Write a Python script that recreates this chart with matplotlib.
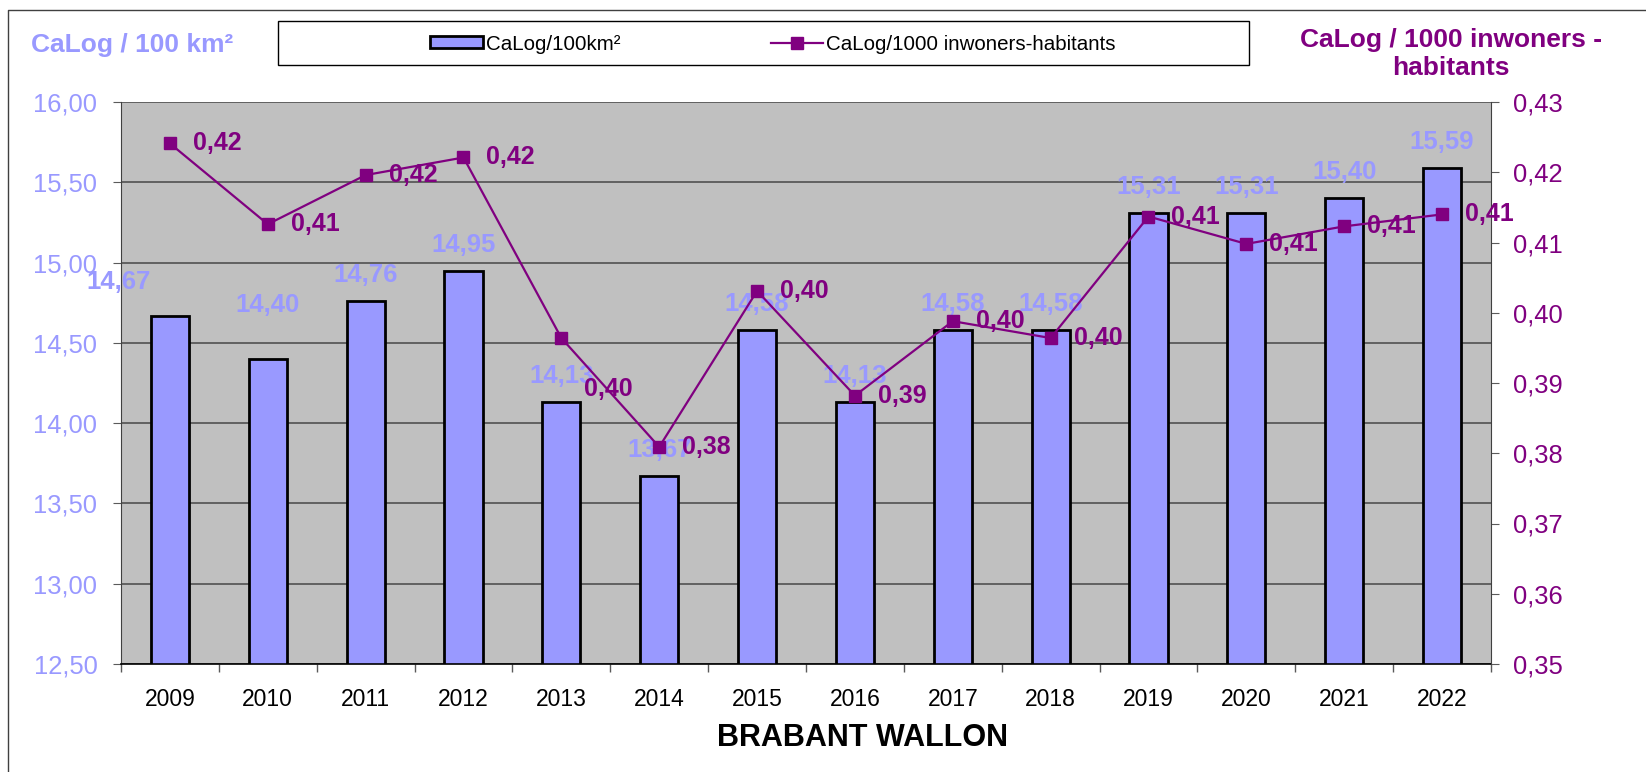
import numpy as np
import matplotlib
matplotlib.use('Agg')
import matplotlib.pyplot as plt
from matplotlib.patches import Rectangle
from matplotlib.lines import Line2D

plt.rcParams['font.family'] = ['Liberation Sans', 'DejaVu Sans']

# data
years = ['2009', '2010', '2011', '2012', '2013', '2014', '2015',
         '2016', '2017', '2018', '2019', '2020', '2021', '2022']
calog_100km2 = [14.67, 14.40, 14.76, 14.95, 14.13, 13.67, 14.58,
                14.13, 14.58, 14.58, 15.31, 15.31, 15.40, 15.59]
calog_1000inh = [0.4241, 0.4126, 0.4196, 0.4221, 0.3964, 0.3809, 0.4031,
                 0.3882, 0.3988, 0.3964, 0.4137, 0.4098, 0.4123, 0.4140]

BAR_COLOR = '#9999FF'
LINE_COLOR = '#800080'
GRID_COLOR = '#5a5a5a'

# label offsets (points) where the original labels were moved by hand
bar_label_shift = {0: (-37, 24), 1: (0, 39)}
line_label_shift = {4: (0, -36.5)}


def fmt(v):
    return f'{v:.2f}'.replace('.', ',')


fig = plt.figure(figsize=(16.46, 7.72), dpi=100)
ax = fig.add_axes([121 / 1646, 1 - 664 / 772, 1370 / 1646, 562 / 772])
ax.set_facecolor('#C0C0C0')

x = np.arange(len(years))
bars = ax.bar(x, calog_100km2, width=0.39, color=BAR_COLOR,
              edgecolor='black', linewidth=2, zorder=2,
              label='CaLog/100km²')
ax.set_ylim(12.5, 16.0)
ax.set_xlim(-0.5, len(years) - 0.5)
ax.set_yticks(np.arange(12.5, 16.01, 0.5))
ax.set_yticklabels([fmt(v) for v in np.arange(12.5, 16.01, 0.5)])
ax.set_axisbelow(True)
ax.yaxis.grid(True, color=GRID_COLOR, linewidth=1.3)

ax.set_xticks(np.arange(-0.5, len(years), 1))
ax.set_xticklabels([])
ax.set_xticks(x, minor=True)
ax.set_xticklabels(years, minor=True, fontsize=16.5)
ax.tick_params(axis='x', which='major', direction='out', length=6,
               color=GRID_COLOR, width=1)
ax.tick_params(axis='x', which='minor', length=0, pad=17.5)
ax.tick_params(axis='y', direction='out', length=5.5, pad=11.5,
               labelsize=18.4, labelcolor=BAR_COLOR, color=GRID_COLOR)

for s in ['top', 'right']:
    ax.spines[s].set_visible(False)
ax.spines['left'].set_color('#404040')
ax.spines['bottom'].set_color('black')
ax.spines['bottom'].set_linewidth(1.2)

for i, v in enumerate(calog_100km2):
    dx, dy = bar_label_shift.get(i, (0, 18.7))
    ax.annotate(fmt(v), (x[i], v), xytext=(dx, dy), textcoords='offset points',
                ha='center', va='center', fontsize=18.5, fontweight='bold',
                color=BAR_COLOR, zorder=3)

ax2 = ax.twinx()
ax2.set_facecolor('none')
line, = ax2.plot(x, calog_1000inh, color=LINE_COLOR, linewidth=1.6,
                 marker='s', markersize=9, zorder=4,
                 label='CaLog/1000 inwoners-habitants')
ax2.set_ylim(0.35, 0.43)
ax2.set_yticks(np.arange(0.35, 0.4301, 0.01))
ax2.set_yticklabels([fmt(v) for v in np.arange(0.35, 0.4301, 0.01)])
ax2.tick_params(axis='y', direction='out', length=5.5, pad=10,
                labelsize=18.4, labelcolor=LINE_COLOR, color=GRID_COLOR)
for s in ['top', 'left', 'bottom']:
    ax2.spines[s].set_visible(False)
ax2.spines['right'].set_color('#404040')

for i, v in enumerate(calog_1000inh):
    dx, dy = line_label_shift.get(i, (0, 0))
    ax2.annotate(fmt(v), (x[i], v), xytext=(16.5 + dx, dy),
                 textcoords='offset points', ha='left', va='center',
                 fontsize=18, fontweight='bold', color=LINE_COLOR, zorder=5)

# titles
fig.text(31 / 1646, 1 - 45 / 772, 'CaLog / 100 km²', ha='left', va='center',
         fontsize=19, fontweight='bold', color=BAR_COLOR)
fig.text(1451 / 1646, 1 - 54 / 772, 'CaLog / 1000 inwoners -\nhabitants',
         ha='center', va='center', fontsize=19, fontweight='bold',
         color=LINE_COLOR, linespacing=1.18)
fig.text(862 / 1646, 1 - 738 / 772, 'BRABANT WALLON', ha='center',
         va='center', fontsize=22, fontweight='bold', color='black')

# legend with a wide frame like the original
fig.patches.append(Rectangle((278 / 1646, 1 - 65 / 772), 971 / 1646,
                             44 / 772, transform=fig.transFigure,
                             fill=False, edgecolor='black', linewidth=1))
fig.legend(handles=[bars, line], loc='center',
           bbox_to_anchor=(773 / 1646, 1 - 44 / 772), ncol=2, frameon=False,
           fontsize=14.8, columnspacing=7.3, handlelength=2.55,
           handleheight=0.5, handletextpad=0.15)

# outer chart border (top and left visible)
fig.add_artist(Line2D([8 / 1646, 8 / 1646, 1], [0, 1 - 10 / 772, 1 - 10 / 772],
                      transform=fig.transFigure, color='#404040',
                      linewidth=1))

fig.savefig('out.png', dpi=100)
